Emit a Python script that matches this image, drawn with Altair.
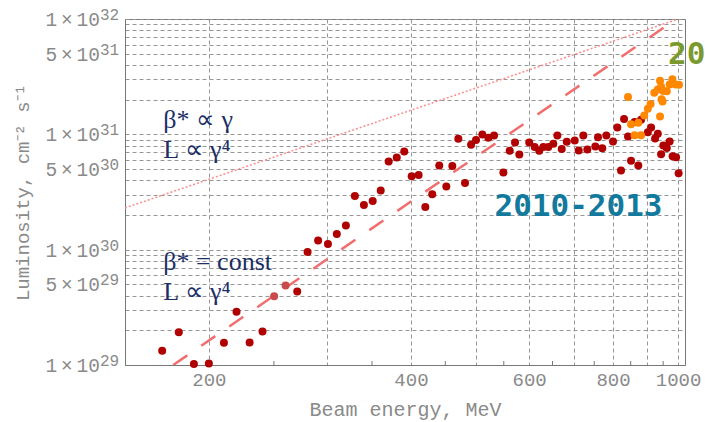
import altair as alt
import pandas as pd

# ---- data ----
# 2010-2013 runs (dark red): beam energy (MeV), luminosity in units of 1e30 cm^-2 s^-1
red_E = [170.4, 180.4, 190.0, 200.0, 210.6, 219.9, 230.0, 240.4, 270.8, 280.6,
         290.9, 300.9, 310.2, 320.0, 330.0, 340.4, 350.8, 360.6, 370.6, 381.0,
         390.9, 401.0, 410.7, 420.2, 430.3, 440.8, 451.6, 461.0, 470.6, 481.5,
         491.6, 500.0, 511.0, 521.6, 531.9, 549.2, 561.3, 571.6, 580.1, 600.2,
         611.5, 621.2, 629.8, 640.7, 651.8, 660.9, 670.9, 682.6, 701.5, 711.2,
         722.5, 732.5, 752.8, 759.8, 771.0, 781.8, 800.0, 811.9, 822.2, 830.8,
         842.2, 851.0, 861.4, 872.4, 880.8, 901.4, 911.6, 924.2, 932.8, 943.4,
         950.6, 962.0, 971.4, 981.4, 993.2, 1001.8]
red_L = [0.133, 0.192, 0.102, 0.103, 0.156, 0.290, 0.157, 0.195, 0.433, 0.955,
         1.20, 1.12, 1.37, 1.62, 2.92, 2.44, 2.64, 3.26, 5.81, 6.30,
         7.10, 4.32, 4.44, 2.34, 3.03, 5.37, 3.53, 5.31, 9.14, 3.78,
         8.11, 8.95, 9.96, 9.33, 9.77, 4.67, 7.19, 8.49, 6.68, 8.49,
         7.75, 7.19, 7.75, 7.75, 8.28, 9.77, 7.45, 8.61, 8.83, 7.24,
         9.77, 7.38, 7.83, 9.42, 7.57, 9.77, 8.67, 11.45, 4.86, 13.6,
         9.57, 5.90, 12.8, 5.36, 13.35, 10.4, 11.45, 9.18, 10.1, 6.71,
         8.00, 7.60, 8.67, 6.47, 6.32, 4.59]
# two lighter red points
light_E = [250.2, 260.2]
light_L = [0.395, 0.488]
# recent runs (orange)
orange_E = [842.2, 851.0, 861.4, 872.4, 880.8, 890.6, 901.4, 910.0, 921.6, 932.8,
            940.0, 940.0, 943.4, 945.0, 948.2, 950.6, 962.0, 971.4, 980.6, 991.4, 1003.0]
orange_L = [21.1, 12.2, 9.8, 12.6, 9.8, 14.6, 16.7, 18.3, 22.9, 24.5,
            14.3, 29.2, 25.9, 20.1, 19.3, 23.8, 23.6, 27.1, 30.1, 27.0, 26.9]

# scaling lines (end points)
dot_E = [150, 1000]
dot_L = [2.3e30, 1e32]
dash_E = [177, 994]
dash_L = [1e29, 1e32]

# axis ticks
x_grid = [200, 300, 400, 500, 600, 700, 800, 900, 1000]
x_minor = [250, 350, 450, 550, 650, 750, 850, 950]
y_vals = [float(f"{k}e{e}") for e in (29, 30, 31) for k in range(1, 10)] + [1e32]
y_lab_vals = [1e29, 5e29, 1e30, 5e30, 1e31, 5e31, 1e32]
y_lab_mant = ["1", "5", "1", "5", "1", "5", "1"]
y_lab_exp = ["29", "29", "30", "30", "31", "31", "32"]

# annotations (text, energy, luminosity)
serif_txt = ["β* ∝ γ", "L ∝ γ⁴", "β* = const", "L ∝ γ⁴"]
serif_E = [171, 171, 171, 171]
serif_L = [1.34e31, 7.35e30, 7.87e29, 4.33e29]

# ---- build ----
W, H = 560, 346
GRID = "#969696"
LAB = "#8a8a8a"
MONO = "Liberation Mono"

xs = alt.Scale(type="log", domain=[150, 1024], nice=False)
ys = alt.Scale(type="log", domain=[1e29, 1e32], nice=False)

x_axis = alt.Axis(values=x_grid, grid=True, gridDash=[4, 3], gridColor=GRID, gridWidth=1,
                  ticks=False, labelExpr="datum.value % 200 == 0 ? format(datum.value, 'd') : ''",
                  labelFont=MONO, labelFontSize=19, labelColor=LAB, labelPadding=5,
                  labelOverlap=False, labelFlush=False,
                  title="Beam energy, MeV", titleFont=MONO, titleFontSize=20,
                  titleFontWeight="normal", titleColor=LAB, titlePadding=10,
                  domainColor="#777777")
y_axis = alt.Axis(values=y_vals, grid=True, gridDash=[4, 3], gridColor=GRID, gridWidth=1,
                  ticks=False, labels=False,
                  title="Luminosity, cm⁻² s⁻¹", titleFont=MONO, titleFontSize=19,
                  titleFontWeight="normal", titleColor=LAB, titlePadding=93,
                  domainColor="#777777")

red_df = pd.DataFrame({"E": red_E, "L": [v * 1e30 for v in red_L]})
light_df = pd.DataFrame({"E": light_E, "L": [v * 1e30 for v in light_L]})
orange_df = pd.DataFrame({"E": orange_E, "L": [v * 1e30 for v in orange_L]})
dot_df = pd.DataFrame({"E": dot_E, "L": dot_L})
dash_df = pd.DataFrame({"E": dash_E, "L": dash_L})
minor_df = pd.DataFrame({"E": x_minor})
serif_df = pd.DataFrame({"t": serif_txt, "E": serif_E, "L": serif_L})
ylab_df = pd.DataFrame({"L": y_lab_vals,
                        "m": [m + "\u2009×\u200910" for m in y_lab_mant],
                        "e": y_lab_exp})

base_x = alt.X("E:Q", scale=xs, axis=x_axis)
base_y = alt.Y("L:Q", scale=ys, axis=y_axis)

dotted = alt.Chart(dot_df).mark_line(color="#ff8c8c", strokeWidth=1.5, strokeDash=[2, 2], clip=True).encode(
    x=base_x, y=base_y)
dashed = alt.Chart(dash_df).mark_line(color="#f26d6d", strokeWidth=2.5, strokeDash=[17, 17], clip=True).encode(
    x="E:Q", y="L:Q")
minor = alt.Chart(minor_df).mark_rule(color="#777777", strokeWidth=1).encode(
    x="E:Q", y=alt.value(H - 4), y2=alt.value(H))
red = alt.Chart(red_df).mark_circle(color="#b00000", size=64, opacity=1).encode(x="E:Q", y="L:Q")
light = alt.Chart(light_df).mark_circle(color="#c94a4a", size=64, opacity=1).encode(x="E:Q", y="L:Q")
orange = alt.Chart(orange_df).mark_circle(color="#ff8800", size=64, opacity=1).encode(x="E:Q", y="L:Q")

ylab_main = alt.Chart(ylab_df).mark_text(font=MONO, fontSize=19.5, color=LAB, align="right",
                                         baseline="middle", dy=1).encode(
    x=alt.value(-25), y="L:Q", text="m:N")
ylab_exp = alt.Chart(ylab_df).mark_text(font=MONO, fontSize=16, color=LAB, align="left",
                                        baseline="middle", dy=-4).encode(
    x=alt.value(-25), y="L:Q", text="e:N")

serif = alt.Chart(serif_df).mark_text(font="Liberation Serif", fontSize=26, color="#1b2f66",
                                      align="left", baseline="middle").encode(
    x="E:Q", y="L:Q", text="t:N")
period = alt.Chart(pd.DataFrame({"t": ["2010-2013"], "E": [710.7], "L": [2.36e30]})).mark_text(
    font="DejaVu Sans Mono", fontSize=31, fontWeight="bold", color="#137a9e",
    align="center", baseline="middle").encode(x="E:Q", y="L:Q", text="t:N")
recent = alt.Chart(pd.DataFrame({"t": ["20"], "E": [966], "L": [4.88e31]})).mark_text(
    font="DejaVu Sans Mono", fontSize=31, fontWeight="bold", color="#7b9a2e",
    align="left", baseline="middle").encode(x="E:Q", y="L:Q", text="t:N")

chart = alt.layer(dotted, dashed, minor, red, light, orange, ylab_main, ylab_exp,
                  serif, period, recent).properties(
    width=W, height=H,
    autosize=alt.AutoSizeParams(type="none"),
    padding={"left": 125, "top": 19, "right": 20, "bottom": 57},
    background="white",
).configure_view(stroke="#777777", strokeWidth=1)

chart.save("out.html", embed_options={"renderer": "svg", "actions": False})
